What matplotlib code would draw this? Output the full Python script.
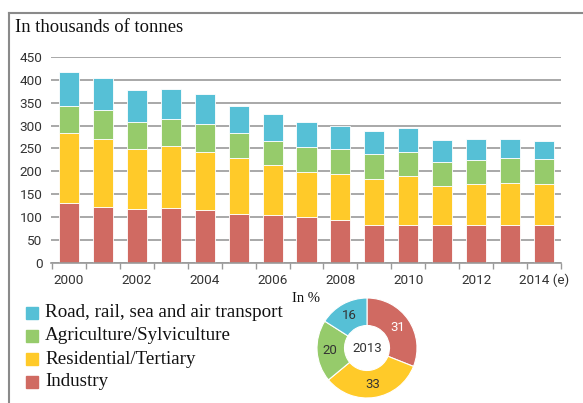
import math
import matplotlib.pyplot as plt
from matplotlib.lines import Line2D
from matplotlib.patches import Rectangle

years = list(range(2000, 2015))
year_labels = ["2000", "2002", "2004", "2006", "2008", "2010", "2012", "2014 (e)"]
industry = [130, 122, 117, 119, 115, 107, 104, 100, 94, 83, 83, 83, 83, 83, 83]
residential = [153, 149, 131, 137, 128, 122, 109, 98, 100, 99, 107, 84, 88, 92, 90]
agriculture = [60, 62, 60, 58, 60, 55, 54, 56, 54, 56, 53, 54, 54, 54, 54]
transport = [75, 71, 69, 67, 65, 59, 58, 54, 52, 49, 51, 47, 46, 42, 40]

sectors = ["Road, rail, sea and air transport", "Agriculture/Sylviculture",
           "Residential/Tertiary", "Industry"]
colors = ["#56c0d6", "#96cb6b", "#ffca29", "#d06a62"]

# 2013 shares in %, clockwise from top: industry, residential, agriculture, transport
share_2013 = [31, 33, 20, 16]
share_colors = ["#d06a62", "#ffca29", "#96cb6b", "#56c0d6"]
share_text = ["white", "#333333", "#333333", "#333333"]

W, H = 583, 403
fig = plt.figure(figsize=(W / 100, H / 100), dpi=100)

# frame lines
fig.add_artist(Line2D([9 / W, 9 / W], [0, 1 - 13 / H], color="#8a8a8a", lw=1.5))
fig.add_artist(Line2D([9 / W, 1], [1 - 13 / H, 1 - 13 / H], color="#8a8a8a", lw=1.5))

fig.text(15 / W, 1 - 28 / H, "In thousands of tonnes", family="Liberation Serif",
         fontsize=13.4, va="center", ha="left", color="#111111")

ax = fig.add_axes([51 / W, (H - 262.6) / H, 510 / W, (262.6 - 57) / H])
x = list(range(len(years)))
bottom = [0] * len(years)
for vals, c in zip([industry, residential, agriculture, transport], colors[::-1]):
    ax.bar(x, vals, width=0.59, bottom=bottom, color=c, edgecolor="white",
           linewidth=0.6, zorder=2)
    bottom = [b + v for b, v in zip(bottom, vals)]

ax.set_xlim(-0.53, 14.5)
ax.set_ylim(0, 450)
ax.set_yticks(range(0, 451, 50))
ax.yaxis.grid(True, color="#999999", lw=1.2)
ax.set_axisbelow(True)
for s in ["top", "right", "left"]:
    ax.spines[s].set_visible(False)
ax.spines["bottom"].set_color("#999999")
ax.spines["bottom"].set_linewidth(1.2)
ax.tick_params(axis="y", length=0, pad=6, labelsize=9.7, labelcolor="#333333")
ax.set_xticks(x[::2])
ax.set_xticklabels(year_labels)
ax.set_xticks([i - 0.5 for i in range(len(years) + 1)], minor=True)
ax.tick_params(axis="x", which="major", length=0, pad=8, labelsize=9.7,
               labelcolor="#333333")
ax.tick_params(axis="x", which="minor", length=4, color="#999999", width=1)
for lab in ax.get_xticklabels() + ax.get_yticklabels():
    lab.set_family("Roboto")

# legend
rows = [312.5, 336, 359, 382]
for name, c, yc in zip(sectors, colors, rows):
    fig.add_artist(Rectangle((26 / W, 1 - (yc + 6) / H), 12 / W, 12 / H,
                             transform=fig.transFigure, color=c))
    fig.text(45 / W, 1 - yc / H, name, family="Liberation Serif", fontsize=13.7,
             va="center", ha="left", color="#111111")

# donut
fig.text(292 / W, 1 - 298 / H, "In %", family="Liberation Serif", fontsize=10.5,
         va="center", ha="left", color="#111111")
pax = fig.add_axes([317 / W, (H - 398) / H, 100 / W, 100 / H])
pax.pie(share_2013, colors=share_colors, startangle=90, counterclock=False,
        radius=1, wedgeprops=dict(width=0.55, edgecolor="white", linewidth=0.8))
ang = 90.0
total = sum(share_2013)
for v, tc in zip(share_2013, share_text):
    span = 360.0 * v / total
    mid = math.radians(ang - span / 2)
    pax.text(0.74 * math.cos(mid), 0.74 * math.sin(mid), str(v), ha="center",
             va="center", fontsize=9.5, family="Roboto", color=tc)
    ang -= span
pax.text(0, 0, "2013", ha="center", va="center", fontsize=9.5, family="Roboto",
         color="#333333")
pax.set_aspect("equal")
pax.set_xlim(-1, 1)
pax.set_ylim(-1, 1)

fig.savefig("out.png", dpi=100)
